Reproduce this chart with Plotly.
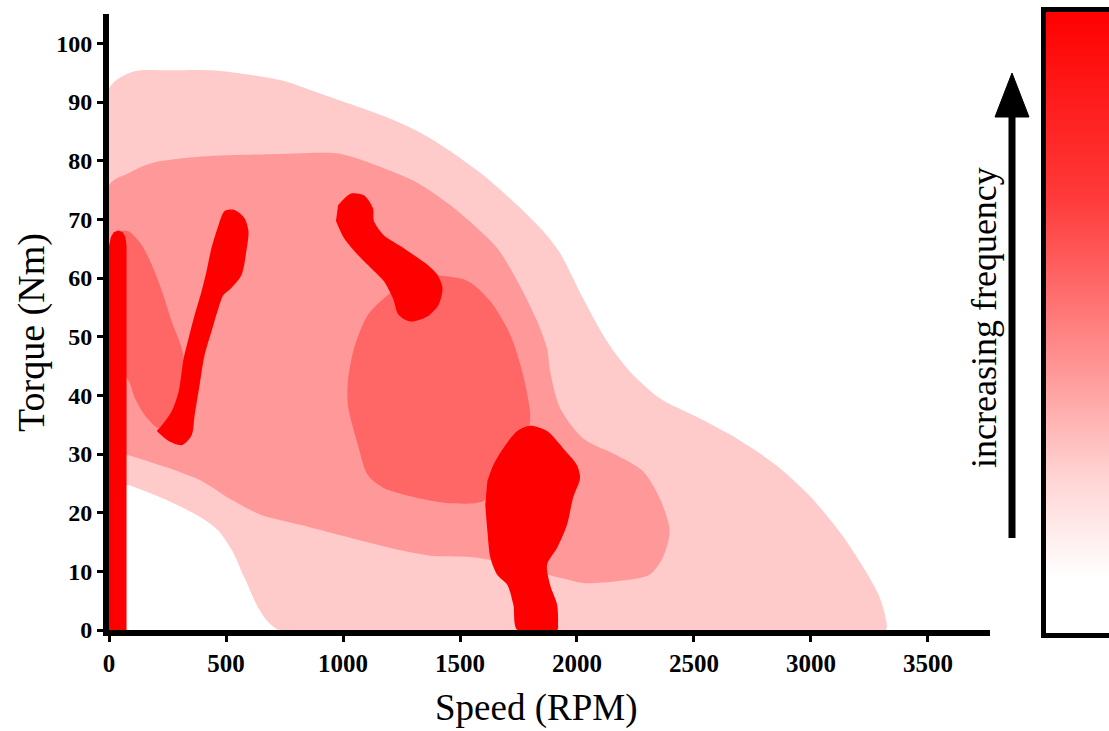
import plotly.graph_objects as go

# Operating-point frequency map: motor speed (RPM) vs torque (Nm).
# Each band is an outline of (speed, torque) vertices; bands are stacked
# from the least to the most frequent.

# Band 1 - occasional operation
band1_speed = [0, 0, 106, 268, 438, 736, 877, 1021, 1174, 1319, 1459, 1600, 1745,
               1855, 1928, 2025, 2128, 2225, 2353, 2523, 2681, 2851, 2991, 3119,
               3217, 3289, 3319, 3319, 723, 579, 536, 468, 396, 255, 85]
band1_torque = [24.7, 92.3, 95.2, 95.4, 95.4, 93.7, 91.8, 89.8, 87.6, 85.0, 81.6,
                77.5, 72.4, 68.0, 64.2, 56.6, 49.2, 44.1, 39.5, 36.1, 32.7, 28.1,
                23.0, 16.9, 11.1, 6.0, 2.0, 0, 0, 8.9, 12.8, 16.9, 19.1, 22.0, 24.7]

# Band 2 - regular operation
band2_speed = [0, 0, 85, 183, 396, 681, 962, 1034, 1174, 1319, 1459, 1574, 1659,
               1745, 1830, 1872, 1885, 1928, 2025, 2170, 2281, 2353, 2396, 2366,
               2310, 2170, 2025, 1928, 1574, 1387, 1247, 1034, 821, 651, 511, 396,
               255, 85]
band2_torque = [29.8, 75.8, 77.9, 79.6, 80.7, 81.1, 81.3, 80.7, 78.7, 76.2, 72.4,
                68.5, 65.1, 59.5, 52.6, 48.0, 44.1, 37.8, 32.7, 29.8, 27.1, 22.5,
                16.9, 12.3, 9.4, 8.3, 8.0, 8.9, 12.3, 12.6, 13.6, 15.7, 17.9, 19.6,
                22.5, 25.4, 27.6, 29.8]

# Band 3 - frequent operation (two islands)
band3a_speed = [40, 81, 140, 183, 226, 268, 311, 323, 298, 255, 213, 153, 111, 85, 40]
band3a_torque = [68.0, 68.0, 65.6, 62.2, 57.8, 52.6, 48.0, 44.1, 39.5, 36.1, 34.4,
                 36.6, 39.5, 42.4, 44.6]

band3b_speed = [1387, 1532, 1630, 1715, 1770, 1800, 1787, 1715, 1600, 1459, 1319,
                1174, 1106, 1064, 1021, 1021, 1047, 1106, 1191, 1277]
band3b_torque = [60.5, 59.5, 56.0, 50.3, 43.4, 36.6, 32.7, 26.7, 22.0, 21.6, 22.5,
                 24.2, 26.4, 31.5, 38.3, 42.4, 48.0, 53.7, 57.1, 59.5]

# Band 4 - most frequent operation (four islands)
band4a_speed = [0, 75, 75, 70, 58, 40, 20, 8, 0]
band4a_torque = [0, 0, 65.5, 67.0, 67.8, 68.1, 67.8, 67.0, 65.5]

band4b_speed = [204, 255, 311, 353, 366, 387, 408, 438, 468, 489, 523, 566, 587,
                596, 579, 536, 494, 468, 438, 417, 396, 366, 340, 319, 298, 268, 226]
band4b_torque = [33.9, 32.2, 31.5, 33.2, 36.6, 41.7, 46.8, 50.9, 54.9, 57.1, 58.3,
                 60.5, 64.6, 68.0, 70.2, 71.6, 71.4, 69.0, 65.1, 61.2, 57.8, 53.7,
                 49.7, 46.3, 40.7, 37.3, 34.9]

band4c_speed = [979, 1034, 1089, 1128, 1132, 1174, 1247, 1302, 1362, 1404, 1425,
                1408, 1362, 1289, 1238, 1213, 1174, 1132, 1064, 1004, 970]
band4c_torque = [72.4, 74.4, 74.1, 71.9, 69.7, 67.3, 65.4, 63.9, 62.2, 60.5, 58.3,
                 55.4, 53.5, 52.6, 53.7, 56.6, 59.5, 61.2, 63.9, 66.8, 69.7]

band4d_speed = [1617, 1642, 1685, 1745, 1800, 1872, 1940, 2000, 2013, 1983, 1957,
                1915, 1872, 1885, 1915, 1919, 1915, 1745, 1728, 1702, 1659, 1630,
                1617, 1608]
band4d_torque = [25.4, 28.1, 31.0, 33.9, 34.8, 33.9, 31.0, 28.1, 25.9, 22.5, 17.9,
                 14.0, 11.1, 7.7, 4.3, 1.2, 0, 0, 4.3, 7.7, 9.4, 12.3, 16.9, 21.3]

band_colors = ["#FFCACA", "#FF9999", "#FF6666", "#FF0000"]

# (speed, torque, colour, outline shape)
regions = [
    (band1_speed, band1_torque, band_colors[0], "spline"),
    (band2_speed, band2_torque, band_colors[1], "spline"),
    (band3a_speed, band3a_torque, band_colors[2], "spline"),
    (band3b_speed, band3b_torque, band_colors[2], "spline"),
    (band4a_speed, band4a_torque, band_colors[3], "linear"),
    (band4b_speed, band4b_torque, band_colors[3], "spline"),
    (band4c_speed, band4c_torque, band_colors[3], "spline"),
    (band4d_speed, band4d_torque, band_colors[3], "spline"),
]

x_ticks = [0, 500, 1000, 1500, 2000, 2500, 3000, 3500]
y_ticks = [0, 10, 20, 30, 40, 50, 60, 70, 80, 90, 100]

W, H = 1109, 731
SERIF = "Liberation Serif, Times New Roman, serif"


def px(x, y):
    """Figure pixel position -> paper coordinates (margins are zero)."""
    return x / W, 1 - y / H


fig = go.Figure()

for sx, ty, col, shape in regions:
    line = dict(width=0, color=col, shape=shape)
    if shape == "spline":
        line["smoothing"] = 0.8
    fig.add_trace(go.Scatter(
        x=sx, y=ty, mode="lines", fill="toself", fillcolor=col, line=line,
        hoverinfo="skip", showlegend=False,
    ))

# Frequency scale: white (rare) to red (frequent)
fig.add_trace(go.Heatmap(
    z=[[0, 0], [1, 1]], x=[0, 1], y=[0, 1], zsmooth="best",
    colorscale=[[0, "#FFFFFF"], [0.094, "#FFFFFF"], [0.25, "#FFD5D5"],
                [0.41, "#FF9C9C"], [0.7, "#FF3A3A"], [1, "#FF0000"]],
    showscale=False, hoverinfo="skip", xaxis="x2", yaxis="y2",
))

axis_common = dict(
    showline=True, linewidth=6, linecolor="black", mirror=False,
    ticks="outside", ticklen=6, tickwidth=2.5, tickcolor="black",
    showgrid=False, zeroline=False, automargin=False,
)

fig.update_layout(
    width=W, height=H,
    margin=dict(l=0, r=0, t=0, b=0),
    paper_bgcolor="white", plot_bgcolor="white",
    xaxis=dict(
        domain=[109 / W, 990 / W], range=[0, 3765],
        tickvals=x_ticks,
        tickfont=dict(family=SERIF, size=25, color="black", weight="bold"),
        **axis_common,
    ),
    yaxis=dict(
        domain=[1 - 630 / H, 1 - 14 / H], range=[0, 105],
        tickvals=y_ticks,
        tickfont=dict(family=SERIF, size=24, color="black", weight="bold"),
        **axis_common,
    ),
    xaxis2=dict(domain=[1043.5 / W, 1], range=[0, 1], visible=False,
                fixedrange=True, anchor="y2"),
    yaxis2=dict(domain=[1 - 635.5 / H, 1 - 9.5 / H], range=[0, 1], visible=False,
                fixedrange=True, anchor="x2"),
)

# Axis titles
tx, ty_ = px(536, 708)
fig.add_annotation(x=tx, y=ty_, xref="paper", yref="paper", text="Speed (RPM)",
                   showarrow=False, xanchor="center", yanchor="middle",
                   font=dict(family=SERIF, size=37, color="black"))
tx, ty_ = px(31, 333)
fig.add_annotation(x=tx, y=ty_, xref="paper", yref="paper", text="Torque (Nm)",
                   textangle=-90, showarrow=False, xanchor="center",
                   yanchor="middle",
                   font=dict(family=SERIF, size=38, color="black"))

# Frame around the frequency scale
fig.add_shape(type="rect", xref="x2 domain", yref="y2 domain",
              x0=0, x1=1.6, y0=0, y1=1,
              line=dict(color="black", width=5), fillcolor="rgba(0,0,0,0)")

# Arrow beside the scale
sx0, sy0 = px(1012, 538)
sx1, sy1 = px(1012, 112)
fig.add_shape(type="line", xref="paper", yref="paper",
              x0=sx0, y0=sy0, x1=sx1, y1=sy1,
              line=dict(color="black", width=7))
ax0, ay0 = px(995, 117)
ax1, ay1 = px(1029, 117)
ax2, ay2 = px(1012, 73)
fig.add_shape(type="path", xref="paper", yref="paper",
              path=f"M {ax0} {ay0} L {ax1} {ay1} L {ax2} {ay2} Z",
              fillcolor="black", line=dict(color="black", width=1))

tx, ty_ = px(984, 318)
fig.add_annotation(x=tx, y=ty_, xref="paper", yref="paper",
                   text="increasing frequency", textangle=-90, showarrow=False,
                   xanchor="center", yanchor="middle",
                   font=dict(family=SERIF, size=36, color="black"))

fig.write_html("out.html")
